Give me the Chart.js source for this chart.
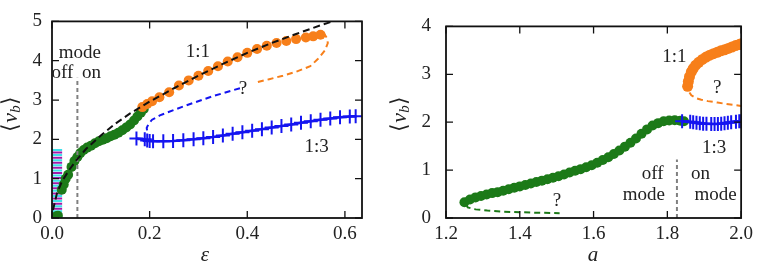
<!DOCTYPE html>
<html>
<head>
<meta charset="utf-8">
<script src="https://cdn.jsdelivr.net/npm/chart.js@4"></script>
<style>
  body { margin: 0; background: #fff; }
  .panel { position: absolute; top: 0; width: 379px; height: 271px; }
</style>
</head>
<body>
<div class="panel" style="left:0"><canvas id="left"></canvas></div>
<div class="panel" style="left:379px"><canvas id="right"></canvas></div>
<script>
// ---- left panel: <v_b> against eps ----
const epsTicks = [0, 0.2, 0.4, 0.6];
const vTicksL = [0, 1, 2, 3, 4, 5];

const fitEps = [0.002, 0.01, 0.02, 0.035, 0.05, 0.07, 0.1, 0.13, 0.16, 0.2, 0.25, 0.3, 0.35, 0.4, 0.45, 0.5, 0.55, 0.58];
const fitV   = [0.2, 0.62, 0.92, 1.22, 1.47, 1.76, 2.1, 2.4, 2.66, 2.96, 3.3, 3.62, 3.92, 4.2, 4.45, 4.68, 4.9, 5.02];

const offEpsL = [0.008, 0.012, 0.02, 0.024, 0.028, 0.033, 0.04, 0.046, 0.052, 0.058, 0.065, 0.072, 0.08, 0.088, 0.096, 0.104, 0.112, 0.12, 0.128, 0.136, 0.144, 0.152, 0.16, 0.168, 0.175, 0.182, 0.188];
const offVL   = [0.04, 0.06, 0.72, 0.85, 1.0, 1.1, 1.3, 1.45, 1.55, 1.65, 1.73, 1.79, 1.84, 1.9, 1.95, 1.99, 2.03, 2.08, 2.12, 2.17, 2.23, 2.3, 2.38, 2.48, 2.58, 2.68, 2.77];

const oneOneEps = [0.185, 0.195, 0.205, 0.22, 0.24, 0.26, 0.28, 0.3, 0.32, 0.34, 0.36, 0.38, 0.4, 0.42, 0.44, 0.46, 0.48, 0.5, 0.52, 0.535, 0.55];
const oneOneV   = [2.82, 2.9, 2.97, 3.07, 3.2, 3.37, 3.5, 3.62, 3.74, 3.86, 3.98, 4.09, 4.2, 4.3, 4.38, 4.45, 4.5, 4.55, 4.59, 4.62, 4.66];

const oneOneDashEps = [0.556, 0.563, 0.565, 0.559, 0.545, 0.529, 0.5, 0.473, 0.445, 0.419];
const oneOneDashV   = [4.72, 4.58, 4.45, 4.26, 4.05, 3.86, 3.72, 3.62, 3.53, 3.45];

const oneThreeDashEps = [0.385, 0.371, 0.33, 0.29, 0.25, 0.221, 0.205, 0.198, 0.194, 0.195];
const oneThreeDashV   = [3.3, 3.25, 3.1, 2.93, 2.75, 2.61, 2.5, 2.4, 2.29, 2.2];

const oneThreeEps = [0.173, 0.19, 0.195, 0.2, 0.207, 0.228, 0.248, 0.269, 0.29, 0.31, 0.33, 0.35, 0.37, 0.39, 0.41, 0.43, 0.45, 0.47, 0.49, 0.51, 0.53, 0.55, 0.57, 0.59, 0.61, 0.622];
const oneThreeV   = [2.02, 2.0, 1.97, 1.96, 1.95, 1.95, 1.96, 1.98, 2.0, 2.03, 2.06, 2.1, 2.14, 2.18, 2.22, 2.26, 2.3, 2.34, 2.38, 2.42, 2.46, 2.5, 2.53, 2.56, 2.58, 2.59];

const stripEps = 0.0105;
const cyanV    = [1.73, 1.6, 1.47, 1.34, 1.21, 1.08, 0.95, 0.82, 0.69, 0.56, 0.43, 0.3, 0.17, 0.04];
const magentaV = [1.665, 1.535, 1.405, 1.275, 1.145, 1.015, 0.885, 0.755, 0.625, 0.495, 0.365, 0.235, 0.105];

const switchEps = 0.052;
const switchTopL = 3.57;

// ---- right panel: <v_b> against a ----
const aTicks = [1.2, 1.4, 1.6, 1.8, 2.0];
const vTicksR = [0, 1, 2, 3, 4];

const offA  = [1.25, 1.265, 1.28, 1.295, 1.31, 1.325, 1.34, 1.355, 1.37, 1.385, 1.4, 1.415, 1.43, 1.445, 1.46, 1.475, 1.49, 1.505, 1.52, 1.535, 1.55, 1.565, 1.58, 1.595, 1.61, 1.625, 1.64, 1.655, 1.67, 1.685, 1.7, 1.715, 1.73, 1.745, 1.76, 1.775, 1.79, 1.805, 1.82, 1.835, 1.845];
const offVR = [0.33, 0.385, 0.43, 0.46, 0.49, 0.52, 0.54, 0.57, 0.6, 0.63, 0.66, 0.69, 0.72, 0.75, 0.78, 0.81, 0.84, 0.87, 0.91, 0.95, 0.985, 1.02, 1.06, 1.1, 1.155, 1.21, 1.27, 1.335, 1.41, 1.49, 1.57, 1.66, 1.76, 1.85, 1.93, 1.98, 2.02, 2.035, 2.04, 2.03, 2.02];

const offDashA  = [1.255, 1.259, 1.28, 1.312, 1.35, 1.4, 1.45, 1.508];
const offDashVR = [0.28, 0.22, 0.18, 0.155, 0.135, 0.12, 0.11, 0.1];

const oneOneA  = [1.855, 1.857, 1.86, 1.865, 1.87, 1.877, 1.885, 1.895, 1.905, 1.915, 1.925, 1.935, 1.945, 1.955, 1.965, 1.975, 1.985, 1.995, 2.0];
const oneOneVR = [2.75, 2.85, 2.95, 3.05, 3.12, 3.19, 3.25, 3.31, 3.36, 3.4, 3.43, 3.46, 3.49, 3.51, 3.54, 3.57, 3.6, 3.62, 3.64];

const oneOneDashA  = [1.86, 1.865, 1.878, 1.892, 1.91, 1.936, 1.96, 2.0];
const oneOneDashVR = [2.62, 2.56, 2.5, 2.47, 2.44, 2.41, 2.38, 2.34];

const oneThreeA  = [1.84, 1.862, 1.87, 1.879, 1.888, 1.897, 1.906, 1.919, 1.928, 1.937, 1.946, 1.955, 1.964, 1.973, 1.986, 1.995, 2.0];
const oneThreeVR = [2.02, 2.01, 2.0, 1.99, 1.98, 1.97, 1.97, 1.96, 1.96, 1.96, 1.97, 1.98, 1.99, 2.0, 2.01, 2.02, 2.02];

const switchA = 1.826;
const switchTopR = 1.22;

const GREEN = '#1c7a18', ORANGE = '#f77f1a', BLUE = '#1414f0';
const CYAN = '#3ee0ea', MAGENTA = '#a01aa8', GRAY = '#808080';
const FONT = 'Liberation Serif';

Chart.defaults.font.family = FONT;
Chart.defaults.font.size = 19;
Chart.defaults.color = '#222';

const zip = (xs, ys) => xs.map((x, i) => ({ x, y: ys[i] }));

function dots(xs, ys, color, r) {
  return { data: zip(xs, ys), showLine: false, pointRadius: r, backgroundColor: color, borderWidth: 0, pointBorderWidth: 0 };
}
function dashed(xs, ys, color, dash) {
  return { data: zip(xs, ys), showLine: true, pointRadius: 0, borderColor: color, borderWidth: 2, borderDash: dash || [6, 4] };
}
function crosses(xs, ys, color, r) {
  return { data: zip(xs, ys), showLine: true, borderColor: color, borderWidth: 2.5,
    pointStyle: 'cross', pointRadius: r, pointBorderColor: color, pointBorderWidth: 2 };
}
function strip(v, color) {
  return { data: v.map(y => ({ x: stripEps, y })), showLine: false, pointStyle: 'line',
    pointRadius: 5, pointBorderColor: color, pointBorderWidth: 2 };
}

// frame, inward ticks on all sides, free text and axis titles
const decor = {
  id: 'decor',
  afterDatasetsDraw(chart, args, opts) {
    const { ctx, chartArea: a, scales: { x, y } } = chart;
    ctx.save();
    ctx.strokeStyle = '#111';
    ctx.lineWidth = 1.3;
    ctx.beginPath();
    x.ticks.forEach(t => {
      const px = x.getPixelForValue(t.value);
      ctx.moveTo(px, a.bottom); ctx.lineTo(px, a.bottom - 7);
      ctx.moveTo(px, a.top); ctx.lineTo(px, a.top + 7);
    });
    y.ticks.forEach(t => {
      const py = y.getPixelForValue(t.value);
      ctx.moveTo(a.left, py); ctx.lineTo(a.left + 7, py);
      ctx.moveTo(a.right, py); ctx.lineTo(a.right - 7, py);
    });
    ctx.stroke();
    ctx.lineWidth = 1.8;
    ctx.strokeRect(a.left, a.top, a.right - a.left, a.bottom - a.top);

    ctx.fillStyle = '#222';
    ctx.textAlign = 'center';
    ctx.textBaseline = 'middle';
    ctx.font = '19px "' + FONT + '"';
    opts.notes.forEach(n => ctx.fillText(n[0], x.getPixelForValue(n[1]), y.getPixelForValue(n[2])));

    ctx.font = 'italic 21px "' + FONT + '"';
    ctx.fillText(opts.xTitle, opts.xTitlePos[0], opts.xTitlePos[1]);

    // rotated <v_b>
    ctx.translate(opts.yTitlePos[0], opts.yTitlePos[1]);
    ctx.rotate(-Math.PI / 2);
    const parts = [
      ['\u27E8', '22px "' + FONT + '"', 0],
      ['v', 'italic 22px "' + FONT + '"', 0],
      ['b', 'italic 15px "' + FONT + '"', 5],
      ['\u27E9', '22px "' + FONT + '"', 0]
    ];
    let total = 0;
    parts.forEach(p => { ctx.font = p[1]; total += ctx.measureText(p[0]).width; });
    let cx = -total / 2;
    ctx.textAlign = 'left';
    parts.forEach(p => {
      ctx.font = p[1];
      ctx.fillText(p[0], cx, p[2]);
      cx += ctx.measureText(p[0]).width;
    });
    ctx.restore();
  }
};

function makeChart(id, cfg) {
  new Chart(document.getElementById(id), {
    type: 'scatter',
    data: { datasets: cfg.datasets },
    options: {
      responsive: true,
      maintainAspectRatio: false,
      animation: false,
      layout: { padding: { top: 11, right: cfg.padRight, left: 0, bottom: 0 } },
      elements: { line: { tension: 0 } },
      plugins: {
        legend: { display: false },
        tooltip: { enabled: false },
        decor: cfg.decor
      },
      scales: {
        x: {
          type: 'linear', min: cfg.xMin, max: cfg.xMax,
          grid: { display: false, drawTicks: false }, border: { display: false },
          afterBuildTicks: s => { s.ticks = cfg.xTicks.map(value => ({ value })); },
          afterFit: s => { s.height = 53; },
          ticks: { padding: 5, maxRotation: 0, callback: v => v.toFixed(1) }
        },
        y: {
          type: 'linear', min: cfg.yMin, max: cfg.yMax,
          grid: { display: false, drawTicks: false }, border: { display: false },
          afterBuildTicks: s => { s.ticks = cfg.yTicks.map(value => ({ value })); },
          afterFit: s => { s.width = cfg.yWidth; },
          ticks: { padding: cfg.yPad, callback: v => String(v) }
        }
      }
    },
    plugins: [decor]
  });
}

makeChart('left', {
  xMin: 0, xMax: 0.635, yMin: 0, yMax: 5,
  xTicks: epsTicks, yTicks: vTicksL, yWidth: 52, yPad: 10, padRight: 17,
  datasets: [
    dashed(fitEps, fitV, '#111', [7, 4]),
    dashed([switchEps, switchEps], [0, switchTopL], GRAY, [4, 3]),
    crosses(oneThreeEps, oneThreeV, BLUE, 7),
    dashed(oneThreeDashEps, oneThreeDashV, BLUE),
    dashed(oneOneDashEps, oneOneDashV, ORANGE),
    dots(oneOneEps, oneOneV, ORANGE, 5),
    dots(offEpsL, offVL, GREEN, 5),
    strip(cyanV, CYAN),
    strip(magentaV, MAGENTA)
  ],
  decor: {
    notes: [['1:1', 0.299, 4.21], ['?', 0.391, 3.27], ['1:3', 0.542, 1.8],
            ['mode', 0.057, 4.2], ['off', 0.0215, 3.7], ['on', 0.081, 3.7]],
    xTitle: '\u03B5', xTitlePos: [205, 255], yTitlePos: [11, 114]
  }
});

makeChart('right', {
  xMin: 1.2, xMax: 2.0, yMin: 0, yMax: 4,
  xTicks: aTicks, yTicks: vTicksR, yWidth: 67, yPad: 15, padRight: 13,
  datasets: [
    dashed([switchA, switchA], [0, switchTopR], GRAY, [4, 3]),
    crosses(oneThreeA, oneThreeVR, BLUE, 7),
    dashed(oneOneDashA, oneOneDashVR, ORANGE),
    dots(oneOneA, oneOneVR, ORANGE, 5.5),
    dashed(offDashA, offDashVR, GREEN),
    dots(offA, offVR, GREEN, 5)
  ],
  decor: {
    notes: [['1:1', 1.819, 3.36], ['?', 1.935, 2.71], ['1:3', 1.927, 1.46], ['?', 1.501, 0.36],
            ['off', 1.76, 0.91], ['mode', 1.736, 0.48], ['on', 1.89, 0.91], ['mode', 1.931, 0.48]],
    xTitle: 'a', xTitlePos: [214, 255], yTitlePos: [21, 114]
  }
});
</script>
</body>
</html>
